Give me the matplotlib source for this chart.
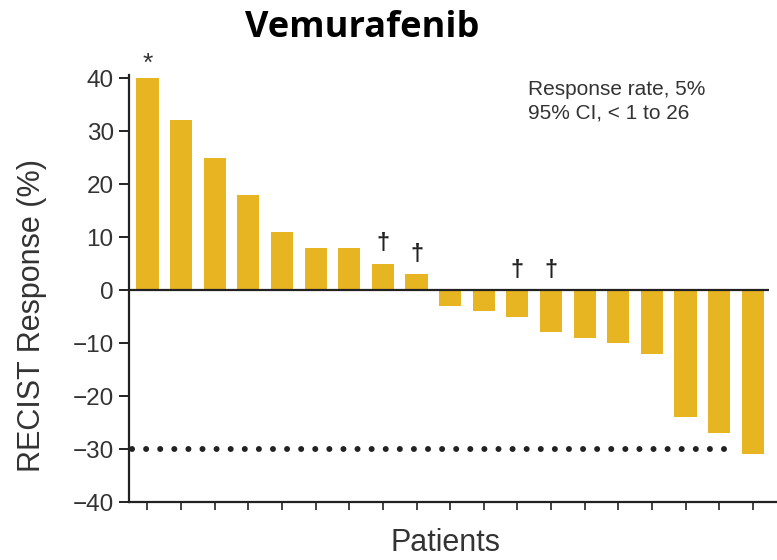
import matplotlib
matplotlib.use("Agg")
import matplotlib.pyplot as plt
import numpy as np

# Best RECIST response per patient, sorted from largest growth to largest shrinkage
responses = [40, 32, 25, 18, 11, 8, 8, 5, 3, -3, -4, -5, -8, -9, -10, -12, -24, -27, -31]
# Per-patient footnote symbols drawn above the bars
asterisk_patients = [0]
dagger_patients = [7, 8, 11, 12]
y_ticks = [-40, -30, -20, -10, 0, 10, 20, 30, 40]
threshold = -30

title = "Vemurafenib"
ylabel = "RECIST Response (%)"
xlabel = "Patients"
note_lines = ["Response rate, 5%", "95% CI, < 1 to 26"]

bar_color = "#E7B521"
ink = "#222222"
text_color = "#333333"

plt.rcParams["font.family"] = ["Liberation Sans", "DejaVu Sans"]

fig = plt.figure(figsize=(7.77, 5.60), dpi=100)
ax = fig.add_axes([129 / 777, 1 - 502 / 560, 648 / 777, (502 - 75.4) / 560])

x = np.arange(len(responses))
ax.bar(x, responses, width=0.66, color=bar_color, zorder=2)

x_left = -0.55
ax.set_xlim(x_left, len(responses) - 1 + 0.72)
ax.set_ylim(-40, 40.5)

# zero reference line and the -30% partial-response threshold
ax.hlines(0, x_left, len(responses) - 1 + 0.48, color=ink, lw=1.6, zorder=3)
ax.plot([x_left + 0.1, len(responses) - 1 - 0.63], [threshold, threshold],
        color=ink, lw=4.3, linestyle=(0, (0.01, 2.35)), dash_capstyle="round",
        zorder=3)

# footnote symbols
for i in asterisk_patients:
    ax.text(x[i], responses[i] + 0.4, "*", ha="center", va="bottom",
            fontsize=19, color=text_color)
for i in dagger_patients:
    ax.text(x[i], max(responses[i], 0) + 1.6, "\u2020", ha="center", va="bottom",
            fontsize=17, fontweight="bold", color=ink)

ax.text(0.615, 0.939, "\n".join(note_lines), transform=ax.transAxes,
        ha="left", va="center", fontsize=15, color=text_color, linespacing=1.3)

# axes styling
for side in ("top", "right"):
    ax.spines[side].set_visible(False)
for side in ("left", "bottom"):
    ax.spines[side].set_linewidth(1.6)
    ax.spines[side].set_color(ink)

ax.set_yticks(y_ticks)
ax.set_yticklabels([str(v).replace("-", "\u2212") for v in y_ticks])
ax.set_xticks(x)
ax.set_xticklabels([])
ax.tick_params(axis="y", length=7, width=1.4, color=ink, labelsize=17.5,
               labelcolor=text_color, pad=4)
ax.tick_params(axis="x", length=6, width=1.2, color=ink)

ax.set_ylabel(ylabel, fontsize=22, color=text_color, va="center")
ax.yaxis.set_label_coords(-0.149, 0.438)
ax.set_xlabel(xlabel, fontsize=22, color=text_color, va="center",
              family=["Liberation Sans Narrow", "Liberation Sans"])
ax.xaxis.set_label_coords(0.488, -0.097)

fig.text(362 / 777, 1 - 28 / 560, title, ha="center", va="center",
         fontsize=26, fontweight="bold", family=["Open Sans", "DejaVu Sans"], color="black")

fig.savefig("out.png", dpi=100, facecolor="white")
